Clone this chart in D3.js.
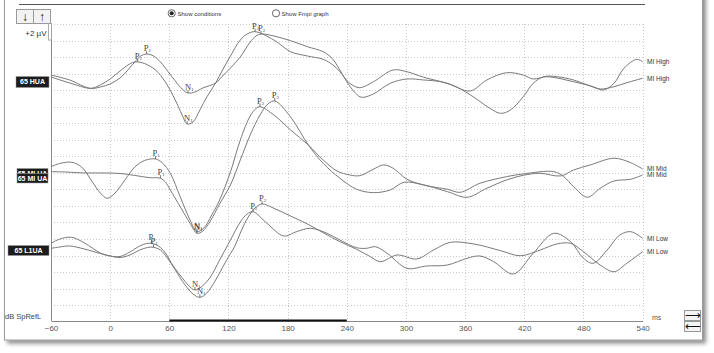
<!DOCTYPE html>
<html><head><meta charset="utf-8">
<script src="https://cdn.jsdelivr.net/npm/d3@7"></script>
<style>body{margin:0;background:#fff}svg{display:block}</style>
</head><body><svg id="c" width="714" height="353"></svg>
<script>
// ---------- data ----------
const timeTicks = [-60,0,60,120,180,240,300,360,420,480,540];
const conditions = ["High","Mid","Low"];
const leftLabels = [["65 HUA"],["65 MI UA","65 MI UA"],["65 L1UA"]];
const rightLabels = ["MI High","MI High","MI Mid","MI Mid","MI Low","MI Low"];
const seriesCondition = [0,0,1,1,2,2];

const high1Time = [-60,-41,-20,-10,0,10,18,25,31,37,44,51,59,66,73,79,86,94,107,114,122,132,142,148,153,166,183,200,216,225,232,240,249,255,267,284,301,318,335,352,369,385,396,406,419,429,440,453,470,484,497,511,524,540];
const high1Val  = [0.59,-0.13,-0.80,-0.62,-0.25,0.47,1.44,2.41,3.13,3.37,3.13,2.41,1.20,0.11,-0.86,-1.34,-1.22,-0.74,-0.13,0.71,1.68,3.01,4.82,5.55,5.79,5.55,4.98,4.26,3.65,2.85,1.64,0.02,-1.38,-1.86,-1.46,-0.17,0.35,0.23,0.02,-0.65,-1.86,-3.19,-3.80,-3.40,-1.79,-0.17,0.63,0.63,0.23,-0.37,-0.86,-0.58,-0.10,0.44];

const high2Time = [-60,-41,-20,-10,0,10,18,23,28,35,46,56,66,73,78,84,91,98,107,114,122,132,139,147,166,183,200,216,226,233,243,253,267,287,301,318,342,365,382,402,419,429,443,470,490,500,511,521,534,540];
const high2Val  = [0.83,0.23,-0.77,-0.37,0.35,1.32,2.04,2.35,2.41,2.22,1.44,-0.01,-2.19,-4.0,-5.09,-4.85,-3.40,-1.83,-0.13,1.44,3.13,5.07,5.79,6.07,5.07,3.65,3.13,2.73,2.04,1.23,-0.17,-0.70,0.02,1.44,1.23,0.56,-0.17,-1.10,0.23,1.11,0.83,0.35,0.63,0.02,-0.58,-0.98,-0.17,1.64,2.73,2.44];

const mid1Time = [-60,-51,-39,-29,-18,-10,-3,5,15,25,35,46,53,61,71,81,88,95,103,111,122,132,142,148,152,166,183,201,216,230,243,253,267,277,287,301,321,342,355,375,402,419,450,460,470,484,497,511,528,540];
const mid1Val  = [0.75,1.14,1.28,0.71,-1.10,-2.43,-3.07,-2.43,-0.86,0.71,1.50,1.68,1.20,-0.05,-2.88,-5.70,-7.11,-6.66,-5.09,-3.28,0.11,3.98,6.88,7.79,8.00,7.00,5.19,3.37,1.56,0.23,-0.25,-0.34,0.44,0.96,0.56,-0.77,-1.55,-1.98,-2.35,-1.26,-0.46,-0.13,0.15,-0.46,-1.67,-2.95,-1.86,-0.98,-0.77,-0.25];

const mid2Time = [-60,-46,-27,-10,10,25,40,51,56,61,71,81,88,94,101,111,122,132,142,152,160,167,183,201,216,233,250,267,284,298,318,342,362,382,402,419,436,457,470,487,511,528,540];
const mid2Val  = [0.15,0.11,-0.01,-0.01,-0.07,-0.31,-0.58,-0.65,-1.10,-2.07,-4.09,-6.09,-7.30,-7.03,-5.94,-3.76,-1.46,1.56,4.58,7.00,8.33,8.69,6.76,3.37,1.16,-0.65,-1.98,-2.39,-2.07,-1.14,-1.46,-2.27,-2.95,-1.86,-0.86,-0.29,-0.05,-0.37,0.35,0.96,1.77,1.23,0.47];

const low1Time = [-60,-51,-39,-26,-10,0,10,20,30,37,42,49,56,64,74,81,86,91,101,111,122,132,139,145,159,176,189,203,220,233,250,260,269,281,301,321,342,362,375,389,409,429,450,467,480,490,504,517,528,540];
const low1Val  = [0.48,1.00,1.21,0.52,-0.69,-1.05,-1.11,-0.57,0.16,0.46,0.48,0.16,-0.69,-2.26,-3.83,-4.80,-5.16,-4.92,-3.71,-1.54,0.88,3.06,4.03,4.30,2.90,1.37,1.89,2.30,1.69,0.88,-0.05,-0.12,0.07,-0.73,-2.54,-2.26,-2.14,-1.33,-1.05,-1.74,-3.23,-0.73,1.69,0.68,-1.33,-1.93,-0.33,1.49,1.89,1.09];

const low2Time = [-60,-51,-41,-26,-10,0,10,20,30,38,44,51,58,66,76,84,91,98,107,117,127,132,140,147,154,166,183,200,216,233,250,264,274,291,311,328,345,369,396,416,436,453,467,480,497,511,524,540];
const low2Val  = [-0.12,0.04,0.16,-0.21,-0.75,-1.05,-1.23,-0.93,-0.33,-0.02,0.00,-0.33,-1.29,-2.74,-4.56,-5.65,-6.05,-5.53,-3.95,-1.78,0.28,1.73,3.66,4.75,5.24,4.72,3.78,2.82,1.77,0.68,-0.24,-1.14,-1.74,-0.93,-1.41,-0.33,0.60,0.40,-0.41,-1.02,-0.33,0.40,0.48,-0.53,-2.14,-2.95,-1.93,-0.53];

// peak markers: [time, letter, subscript]
const high1Peaks = [[37,"P","1"],[79,"N","1"],[153,"P","2"]];
const high2Peaks = [[28,"P","1"],[78,"N","1"],[147,"P","2"]];
const mid1Peaks  = [[46,"P","1"],[88,"N","1"],[152,"P","2"]];
const mid2Peaks  = [[51,"P","1"],[88,"N","1"],[167,"P","2"]];
const low1Peaks  = [[42,"P","1"],[86,"N","1"],[145,"P","2"]];
const low2Peaks  = [[44,"P","1"],[91,"N","1"],[154,"P","2"]];

// ---------- layout ----------
const rowOffsetUV = [27, 16, 7];   // vertical stacking of each condition, in µV
const series = [
  {t:high1Time, v:high1Val, p:high1Peaks},
  {t:high2Time, v:high2Val, p:high2Peaks},
  {t:mid1Time,  v:mid1Val,  p:mid1Peaks},
  {t:mid2Time,  v:mid2Val,  p:mid2Peaks},
  {t:low1Time,  v:low1Val,  p:low1Peaks},
  {t:low2Time,  v:low2Val,  p:low2Peaks}
];

const svg = d3.select("#c");
const SANS = "'Liberation Sans', Arial, sans-serif";
const SERIF = "'Liberation Serif', 'DejaVu Serif', serif";

const x = d3.scaleLinear().domain([-60,540]).range([51, 642.6]);
const y = d3.scaleLinear().domain([0,34]).range([305.2, 24]);

// frame with shadow
const defs = svg.append("defs");
const f = defs.append("filter").attr("id","sh").attr("x","-5%").attr("y","-5%").attr("width","112%").attr("height","115%");
f.append("feDropShadow").attr("dx",3).attr("dy",3).attr("stdDeviation",2.2).attr("flood-color","#000").attr("flood-opacity",0.45);
svg.append("rect").attr("x",4.5).attr("y",-10).attr("width",698).attr("height",350)
  .attr("fill","#fff").attr("stroke","#9a9a9a").attr("stroke-width",1).attr("filter","url(#sh)");
svg.append("line").attr("x1",19).attr("x2",645).attr("y1",4.5).attr("y2",4.5).attr("stroke","#555").attr("stroke-width",1);

// grid
const grid = svg.append("g").attr("stroke","#cacaca").attr("stroke-width",1).attr("stroke-dasharray","1,2");
grid.selectAll("line.h").data(d3.range(0,35,2)).join("line").attr("class","h")
  .attr("x1",x(-60)).attr("x2",x(540))
  .attr("y1",d=>Math.round(y(d))+0.5).attr("y2",d=>Math.round(y(d))+0.5);
grid.selectAll("line.v").data(timeTicks.filter(t=>t>-60)).join("line").attr("class","v")
  .attr("x1",d=>Math.round(x(d))+0.5).attr("x2",d=>Math.round(x(d))+0.5)
  .attr("y1",24).attr("y2",321);

// left vertical axis line
svg.append("line").attr("x1",51.5).attr("x2",51.5).attr("y1",23).attr("y2",321).attr("stroke","#888");

// bottom axis
const axis = d3.axisBottom(x).tickValues(timeTicks).tickSize(0).tickSizeOuter(0).tickPadding(4);
const ga = svg.append("g").attr("transform","translate(0,321)").call(axis);
ga.select(".domain").attr("stroke","#888");
ga.selectAll("text").attr("font-family",SANS).attr("font-size",8).attr("fill","#555");
svg.append("line").attr("x1",x(60)).attr("x2",x(240)).attr("y1",320.5).attr("y2",320.5).attr("stroke","#111").attr("stroke-width",2);
svg.append("text").attr("x",652).attr("y",320).attr("font-family",SANS).attr("font-size",7).attr("fill","#555").text("ms");
svg.append("text").attr("x",5).attr("y",318.5).attr("font-family",SANS).attr("font-size",7.5).attr("fill","#444").text("dB SpRefL");

// curves
const line = d3.line().curve(d3.curveCatmullRom.alpha(0.5));
const gl = svg.append("g");
series.forEach((s,i)=>{
  const off = rowOffsetUV[seriesCondition[i]];
  const pts = s.t.map((t,j)=>[x(t), y(s.v[j]+off)]);
  gl.append("path").attr("d",line(pts)).attr("fill","none").attr("stroke","#7a7a7a").attr("stroke-width",1);
  // right label
  const last = pts[pts.length-1];
  svg.append("text").attr("x",647).attr("y",last[1]).attr("dy","0.35em")
    .attr("font-family",SANS).attr("font-size",6.5).attr("fill","#333").text(rightLabels[i]);
  // peak markers
  s.p.forEach(([t,l,sub])=>{
    const j = s.t.indexOf(t);
    const px = x(t), py = y(s.v[j]+off);
    gl.append("line").attr("x1",px).attr("x2",px).attr("y1",py-3).attr("y2",py).attr("stroke","#555").attr("stroke-width",0.8);
    const tx = gl.append("text").attr("x",px-3).attr("y",py-3).attr("font-family",SERIF).attr("font-size",8.5).attr("fill","#444");
    tx.append("tspan").text(l);
    tx.append("tspan").attr("font-size",5).attr("dy",1).text(sub);
  });
});

// left condition labels
const labelBoxes = [
  [{x:16,y:76.5,w:33,h:11}],
  [{x:17,y:168.5,w:31,h:10},{x:17,y:173.5,w:31,h:9.5}],
  [{x:8,y:245.5,w:41,h:10}]
];
conditions.forEach((c,ci)=>{
  leftLabels[ci].forEach((txt,k)=>{
    const b = labelBoxes[ci][k];
    svg.append("rect").attr("x",b.x).attr("y",b.y).attr("width",b.w).attr("height",b.h)
      .attr("fill","#1c1c1c").attr("stroke","#999").attr("stroke-width",0.5);
    svg.append("text").attr("x",b.x+b.w/2).attr("y",b.y+b.h/2).attr("dy","0.35em").attr("text-anchor","middle")
      .attr("font-family",SANS).attr("font-weight","bold").attr("font-size",7).attr("fill","#fff").text(txt);
  });
});

// top-left buttons & scale
const btn = svg.append("g");
btn.append("rect").attr("x",16.5).attr("y",9.5).attr("width",17).attr("height",14).attr("fill","#f2f2f2").attr("stroke","#999");
btn.append("rect").attr("x",33.5).attr("y",9.5).attr("width",17).attr("height",14).attr("fill","#f2f2f2").attr("stroke","#999");
btn.append("text").attr("x",25).attr("y",21).attr("text-anchor","middle").attr("font-family",SANS).attr("font-weight","bold").attr("font-size",12).attr("fill","#111").text("↓");
btn.append("text").attr("x",42).attr("y",21).attr("text-anchor","middle").attr("font-family",SANS).attr("font-weight","bold").attr("font-size",12).attr("fill","#111").text("↑");
svg.append("rect").attr("x",48.5).attr("y",23.5).attr("width",3).attr("height",y(0)-y(2)).attr("fill","#fff").attr("stroke","#999").attr("stroke-width",0.8);
svg.append("text").attr("x",46.5).attr("y",35.5).attr("text-anchor","end").attr("font-family",SANS).attr("font-size",8).attr("fill","#333").text("+2 µV");

// radio buttons
svg.append("circle").attr("cx",171.7).attr("cy",13.3).attr("r",3.6).attr("fill","#fff").attr("stroke","#666");
svg.append("circle").attr("cx",171.7).attr("cy",13.3).attr("r",2).attr("fill","#222");
svg.append("text").attr("x",177.5).attr("y",15.5).attr("font-family",SANS).attr("font-size",6).attr("fill","#333").text("Show conditions");
svg.append("circle").attr("cx",276).attr("cy",13.3).attr("r",3.6).attr("fill","#fff").attr("stroke","#666");
svg.append("text").attr("x",281.5).attr("y",15.5).attr("font-family",SANS).attr("font-size",6).attr("fill","#333").text("Show Fmpi graph");

// bottom-right buttons
const br = svg.append("g");
br.append("rect").attr("x",684.5).attr("y",310.5).attr("width",16).attr("height",10).attr("fill","#f4f4f4").attr("stroke","#999");
br.append("rect").attr("x",684.5).attr("y",321.5).attr("width",16).attr("height",10).attr("fill","#f4f4f4").attr("stroke","#999");
br.append("text").attr("x",692.5).attr("y",319).attr("text-anchor","middle").attr("font-family",SANS).attr("font-size",11).attr("fill","#111").text("⟶");
br.append("text").attr("x",692.5).attr("y",330).attr("text-anchor","middle").attr("font-family",SANS).attr("font-size",11).attr("fill","#111").text("⟵");
</script></body></html>
